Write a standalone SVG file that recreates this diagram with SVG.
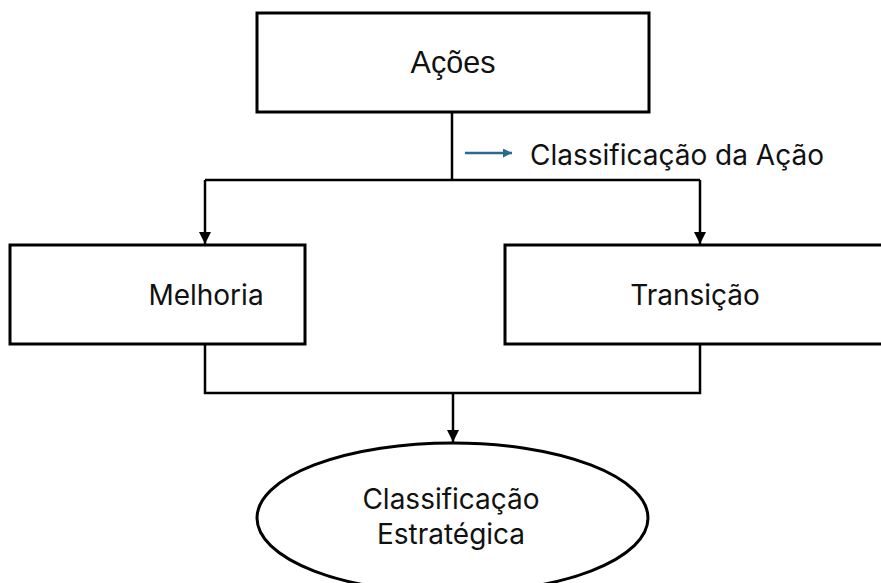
<svg xmlns="http://www.w3.org/2000/svg" width="881" height="583" viewBox="0 0 881 583">
<defs>
<style>
.box{fill:#fff;stroke:#000;stroke-width:3}
.ln{fill:none;stroke:#000;stroke-width:2.5}
.t{font-family:Inter,"Noto Sans",sans-serif;font-size:28px;fill:#111;text-anchor:middle}
.ta{font-family:"Liberation Sans",Arial,sans-serif;font-size:30.5px;fill:#111;text-anchor:middle}
</style>
<marker id="ah" viewBox="0 0 10 10" refX="10" refY="5" markerWidth="12" markerHeight="12" markerUnits="userSpaceOnUse" orient="auto"><path d="M0,0L10,5L0,10Z" fill="#000"/></marker>
<marker id="ahb" viewBox="0 0 10 10" refX="10" refY="5" markerWidth="10" markerHeight="9" markerUnits="userSpaceOnUse" orient="auto"><path d="M0,0L10,5L0,10Z" fill="#2A6A8C"/></marker>
</defs>
<g id="connectors">
<path class="ln" d="M452,112V180"/>
<path class="ln" d="M205,180H700"/>
<path class="ln" d="M205,180V244" marker-end="url(#ah)"/>
<path class="ln" d="M700,180V244" marker-end="url(#ah)"/>
<path class="ln" d="M205,344V393H700V344"/>
<path class="ln" d="M453,393V442" marker-end="url(#ah)"/>
</g>
<g id="acoes">
<rect class="box" x="257" y="13" width="392" height="99"/>
<text class="ta" x="453" y="73">Ações</text>
</g>
<g id="legend">
<path d="M465,153H512" stroke="#2A6A8C" stroke-width="2.5" fill="none" marker-end="url(#ahb)"/>
<text class="t" x="530" y="165" style="text-anchor:start">Classificação da Ação</text>
</g>
<g id="melhoria">
<rect class="box" x="10" y="245" width="295" height="99"/>
<text class="t" x="206" y="305">Melhoria</text>
</g>
<g id="transicao">
<rect class="box" x="505" y="245" width="390" height="99"/>
<text class="t" x="695" y="305">Transição</text>
</g>
<g id="classificacao">
<ellipse class="box" cx="452.5" cy="518" rx="195.5" ry="75"/>
<text class="t" x="451" y="509">Classificação</text>
<text class="t" x="451" y="544">Estratégica</text>
</g>
</svg>
